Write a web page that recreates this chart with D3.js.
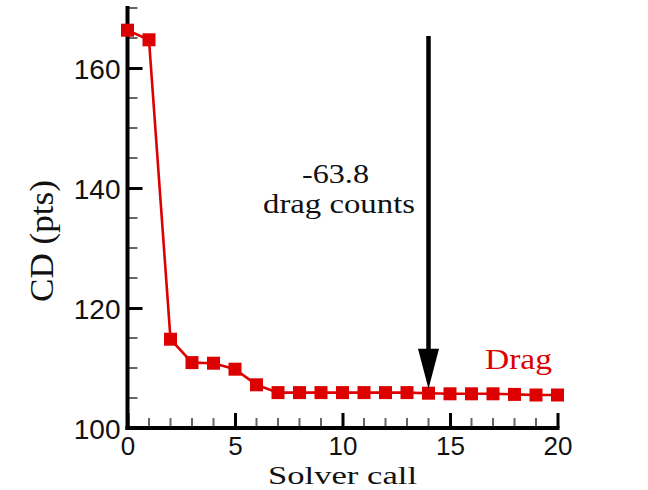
<!DOCTYPE html>
<html>
<head>
<meta charset="utf-8">
<script src="https://cdn.jsdelivr.net/npm/d3@7/dist/d3.min.js"></script>
<style>
  html, body { margin: 0; padding: 0; background: #fff; }
  svg { display: block; }
</style>
</head>
<body>
<svg id="chart" width="648" height="490"></svg>
<script>
// Drag coefficient history over optimizer solver calls
const solverCalls = d3.range(0, 21);
const cdValues = [166.3, 164.7, 114.8, 110.9, 110.8, 109.8, 107.2, 105.9, 105.9, 105.9,
                  105.9, 105.9, 105.9, 105.9, 105.8, 105.7, 105.7, 105.7, 105.6, 105.5, 105.5];
const xTicks = [0, 5, 10, 15, 20];
const yTicks = [100, 120, 140, 160];
const seriesName = "Drag";
const annotationLines = ["-63.8", "drag counts"];
const annotationAt = 14;

const red = "#dd0000";
const svg = d3.select("#chart");

const x = d3.scaleLinear().domain([0, 20]).range([127.5, 557.5]);
const y = d3.scaleLinear().domain([100, 170]).range([428, 8]);

const serif = "'Liberation Serif', 'Times New Roman', serif";
const sans = "'Liberation Sans', Arial, sans-serif";

// Minor ticks (inward)
const g = svg.append("g");
g.selectAll("line.xminor").data(d3.range(0, 21).filter(v => v % 5))
  .join("line")
  .attr("x1", d => x(d)).attr("x2", d => x(d))
  .attr("y1", y(100)).attr("y2", y(100) - 10)
  .attr("stroke", "#666").attr("stroke-width", 2);
g.selectAll("line.yminor").data(d3.range(100, 171, 5).filter(v => v % 20))
  .join("line")
  .attr("y1", d => y(d)).attr("y2", d => y(d))
  .attr("x1", x(0)).attr("x2", x(0) + 10)
  .attr("stroke", "#666").attr("stroke-width", 2);

// Major ticks via d3 axes, drawn inward
const xAxis = d3.axisBottom(x).tickValues(xTicks).tickSize(-15).tickSizeOuter(0);
const yAxis = d3.axisLeft(y).tickValues(yTicks).tickSize(-15).tickSizeOuter(0);

const gx = svg.append("g").attr("transform", `translate(0,${y(100)})`).call(xAxis);
const gy = svg.append("g").attr("transform", `translate(${x(0)},0)`).call(yAxis);

[gx, gy].forEach(a => {
  a.select(".domain").remove();
  a.selectAll(".tick line").attr("stroke", "#000").attr("stroke-width", 3);
});
gx.selectAll(".tick text")
  .attr("font-family", sans).attr("font-size", 26).attr("fill", "#111")
  .attr("dy", "0").attr("y", 27);
gy.selectAll(".tick text")
  .attr("font-family", sans).attr("font-size", 28).attr("fill", "#111")
  .attr("x", -7).attr("dy", "0.36em");

// Axis lines
svg.append("line")
  .attr("x1", x(0)).attr("x2", x(20)).attr("y1", y(100)).attr("y2", y(100))
  .attr("stroke", "#000").attr("stroke-width", 4).attr("stroke-linecap", "square");
svg.append("line")
  .attr("x1", x(0)).attr("x2", x(0)).attr("y1", y(100)).attr("y2", y(170))
  .attr("stroke", "#000").attr("stroke-width", 4).attr("stroke-linecap", "square");

// Series line and square markers
const pts = solverCalls.map((c, i) => [c, cdValues[i]]);
svg.append("path")
  .datum(pts)
  .attr("fill", "none").attr("stroke", red).attr("stroke-width", 2.6)
  .attr("d", d3.line().x(d => x(d[0])).y(d => y(d[1])));
const ms = 13;
svg.selectAll("rect.marker").data(pts).join("rect")
  .attr("class", "marker")
  .attr("x", d => x(d[0]) - ms / 2).attr("y", d => y(d[1]) - ms / 2)
  .attr("width", ms).attr("height", ms)
  .attr("fill", red);

// Series label
svg.append("text")
  .attr("x", 485).attr("y", 369)
  .attr("font-family", serif).attr("font-size", 30).attr("fill", red)
  .attr("textLength", 67).attr("lengthAdjust", "spacingAndGlyphs")
  .text(seriesName);

// Arrow marking the converged value
const ax = x(annotationAt);
const tipY = y(cdValues[annotationAt]) - ms / 2 + 2;
svg.append("line")
  .attr("x1", ax).attr("x2", ax).attr("y1", 36).attr("y2", tipY - 30)
  .attr("stroke", "#000").attr("stroke-width", 4.5);
svg.append("path")
  .attr("d", `M${ax - 10.5},${tipY - 40} L${ax + 10.5},${tipY - 40} L${ax},${tipY} Z`)
  .attr("fill", "#000");

// Annotation text
svg.append("text")
  .attr("x", 302).attr("y", 183)
  .attr("font-family", serif).attr("font-size", 27).attr("fill", "#111")
  .attr("textLength", 67).attr("lengthAdjust", "spacingAndGlyphs")
  .text(annotationLines[0]);
svg.append("text")
  .attr("x", 263).attr("y", 213)
  .attr("font-family", serif).attr("font-size", 27).attr("fill", "#111")
  .attr("textLength", 152).attr("lengthAdjust", "spacingAndGlyphs")
  .text(annotationLines[1]);

// Axis titles
svg.append("text")
  .attr("x", 268).attr("y", 484)
  .attr("font-family", serif).attr("font-size", 25).attr("fill", "#111")
  .attr("textLength", 149).attr("lengthAdjust", "spacingAndGlyphs")
  .text("Solver call");
svg.append("text")
  .attr("transform", "translate(53,302) rotate(-90)")
  .attr("font-family", serif).attr("font-size", 34).attr("fill", "#111")
  .attr("textLength", 122).attr("lengthAdjust", "spacingAndGlyphs")
  .text("CD (pts)");
</script>
</body>
</html>
